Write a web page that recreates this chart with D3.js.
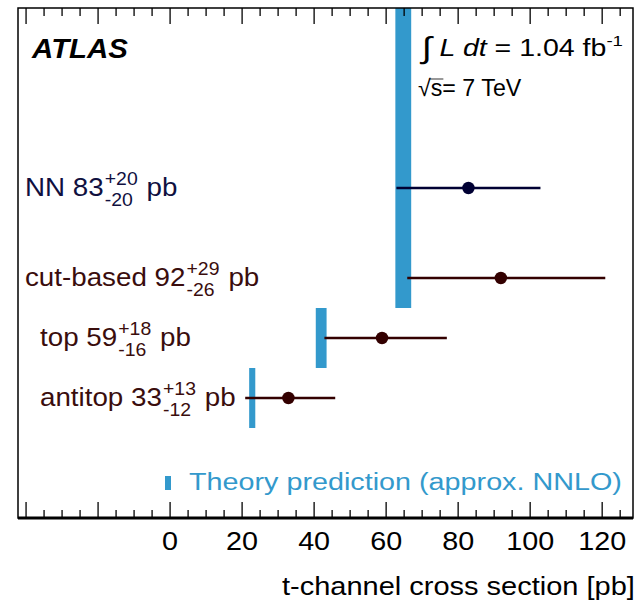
<!DOCTYPE html>
<html><head><meta charset="utf-8">
<script src="https://cdn.jsdelivr.net/npm/d3@7"></script>
<style>
body{margin:0;background:#fff;}
svg{display:block;}
text{font-family:"Liberation Sans",Arial,Helvetica,sans-serif;}
</style></head>
<body>
<svg id="chart" width="641" height="603"></svg>
<script>
// ---- data ----
const labels = ["NN", "cut-based", "top", "antitop"];
const values = [83, 92, 59, 33];
const errUp = [20, 29, 18, 13];
const errDown = [20, 26, 16, 12];
const rowPos = [4.5, 3, 2, 1];
const theoryLow = [62.7, 40.6, 22.1];
const theoryHigh = [67.1, 43.6, 23.8];
const theoryBottom = [2.5, 1.5, 0.5];
const theoryTop = [7.5, 2.5, 1.5];
const majorTicks = [-40, -20, 0, 20, 40, 60, 80, 100, 120];
const tickLabels = ["", "", "0", "20", "40", "60", "80", "100", "120"];
const minorTicks = d3.range(-40, 126, 5).filter(v => v % 20 !== 0);

// ---- layout ----
const L = 18, R = 633, T = 8, B = 518;
const svg = d3.select("#chart");
const x = d3.scaleLinear().domain([-42.1, 128.7]).range([L, R]);
const y = d3.scaleLinear().domain([-1, 7.5]).range([B, T]);
const bandColor = "#3399cc";
const colors = ["#000033", "#330000", "#330000", "#330000"];
const textColors = ["#10103f", "#3a0d0d", "#3a0d0d", "#3a0d0d"];
const labelX = [25, 25, 40, 40];

function stretchAt(sel, ax, s) {
  sel.attr("transform", `translate(${ax},0) scale(${s},1) translate(${-ax},0)`);
}
function fitWidth(sel, x0, x1) {
  const bb = sel.node().getBBox();
  const s = (x1 - x0) / bb.width;
  sel.attr("transform", `translate(${x0},0) scale(${s},1) translate(${-bb.x},0)`);
}

// theory bands
svg.append("g").selectAll("rect").data(theoryLow).join("rect")
  .attr("x", (d) => x(d))
  .attr("width", (d, i) => x(theoryHigh[i]) - x(d))
  .attr("y", (d, i) => y(theoryTop[i]))
  .attr("height", (d, i) => y(theoryBottom[i]) - y(theoryTop[i]))
  .attr("fill", bandColor);

// error bars and points
const g = svg.append("g");
values.forEach((v, i) => {
  g.append("line")
    .attr("x1", x(v - errDown[i])).attr("x2", x(v + errUp[i]))
    .attr("y1", y(rowPos[i])).attr("y2", y(rowPos[i]))
    .attr("stroke", colors[i]).attr("stroke-width", 2.5);
  g.append("circle")
    .attr("cx", x(v)).attr("cy", y(rowPos[i])).attr("r", 6.2)
    .attr("fill", colors[i]);
});

// labels
const fsMain = 25, fsScript = 17.5;
labels.forEach((lab, i) => {
  const base = y(rowPos[i]) + 8.5;
  const tg = svg.append("g").attr("fill", textColors[i]);
  const t1 = tg.append("text").attr("x", labelX[i]).attr("y", base)
    .attr("font-size", fsMain).text(lab + " " + values[i]);
  const w1 = t1.node().getComputedTextLength();
  const sx = labelX[i] + w1 + 1;
  const sup = tg.append("text").attr("x", sx).attr("y", base - 11.3)
    .attr("font-size", fsScript).text("+" + errUp[i]);
  const sub = tg.append("text").attr("x", sx).attr("y", base + 9.4)
    .attr("font-size", fsScript).text("-" + errDown[i]);
  const w2 = Math.max(sup.node().getComputedTextLength(), sub.node().getComputedTextLength());
  tg.append("text").attr("x", sx + w2 + 8).attr("y", base)
    .attr("font-size", fsMain).text("pb");
  stretchAt(tg, labelX[i], 1.11);
});

// legend
svg.append("rect").attr("x", 165).attr("y", 476).attr("width", 6).attr("height", 14).attr("fill", bandColor);
const leg = svg.append("text").attr("x", 190).attr("y", 490).attr("font-size", 23.5)
  .attr("fill", bandColor).text("Theory prediction (approx. NNLO)");
fitWidth(leg, 189, 622);

// axes
const axMajor = d3.axisBottom(x).tickValues(majorTicks).tickSize(-16).tickPadding(14)
  .tickFormat((d, i) => tickLabels[i]);
const axMinor = d3.axisBottom(x).tickValues(minorTicks).tickSize(-8).tickFormat("");
const gb = svg.append("g").attr("transform", `translate(0,${B})`).call(axMajor);
svg.append("g").attr("transform", `translate(0,${B})`).call(axMinor);
const axTopMajor = d3.axisTop(x).tickValues(majorTicks).tickSize(-16).tickFormat("");
const axTopMinor = d3.axisTop(x).tickValues(minorTicks).tickSize(-8).tickFormat("");
svg.append("g").attr("transform", `translate(0,${T})`).call(axTopMajor);
svg.append("g").attr("transform", `translate(0,${T})`).call(axTopMinor);
svg.selectAll(".domain").remove();
svg.selectAll(".tick line").attr("stroke", "#000").attr("stroke-width", 1.3);
gb.selectAll(".tick text").attr("font-size", 25).attr("fill", "#000")
  .attr("transform", "scale(1.15,1)")
  .style("font-family", '"Liberation Sans",Arial,sans-serif');

// frame
svg.append("rect").attr("x", L).attr("y", T).attr("width", R - L).attr("height", B - T)
  .attr("fill", "none").attr("stroke", "#000").attr("stroke-width", 1.5);
svg.append("line").attr("x1", L).attr("x2", R).attr("y1", B).attr("y2", B)
  .attr("stroke", "#000").attr("stroke-width", 3);

// axis title
const title = svg.append("text").attr("x", 283).attr("y", 595)
  .attr("font-size", 25).text("t-channel cross section [pb]");
fitWidth(title, 282, 635);

// ATLAS label
const atl = svg.append("text").attr("x", 33).attr("y", 58).attr("font-size", 27)
  .attr("font-weight", "bold").attr("font-style", "italic").text("ATLAS");
fitWidth(atl, 31, 128);

// luminosity
const lum = svg.append("text").attr("x", 419).attr("y", 56).attr("font-size", 23);
lum.append("tspan").attr("font-size", 30).attr("dy", 2).attr("font-weight", 300).text("\u222B");
lum.append("tspan").attr("dy", -2).text(" ");
lum.append("tspan").attr("font-style", "italic").text("L dt");
lum.append("tspan").text(" = 1.04 fb");
lum.append("tspan").attr("font-size", 15).attr("dy", -10).text("-1");
fitWidth(lum, 419, 623);
const sqg = svg.append("g");
const sq = sqg.append("text").attr("x", 419).attr("y", 96).attr("font-size", 23).text("\u221As= 7 TeV");
const sNode = sq.node();
const sStart = sNode.getStartPositionOfChar(1).x;
const sEnd = sNode.getEndPositionOfChar(1).x;
sqg.append("line").attr("x1", sStart - 1).attr("x2", sEnd + 1)
  .attr("y1", 79).attr("y2", 79).attr("stroke", "#000").attr("stroke-width", 0.8);
fitWidth(sqg, 418, 522);
</script>
</body></html>
